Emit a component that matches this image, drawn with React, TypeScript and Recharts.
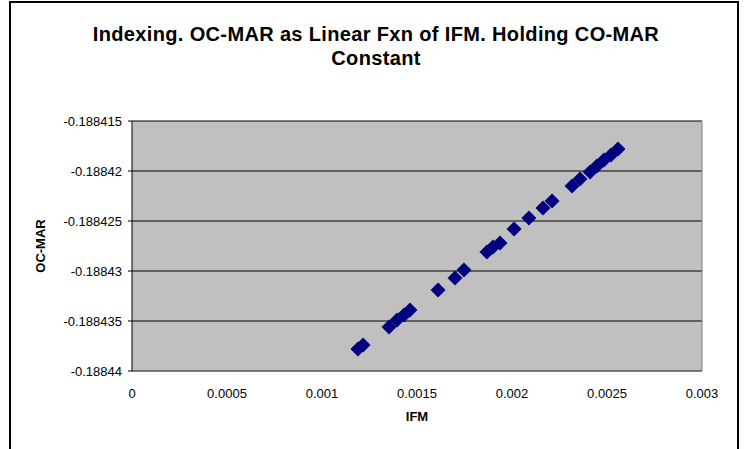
import {
	CartesianGrid,
	ReferenceLine,
	Scatter,
	ScatterChart,
	XAxis,
	YAxis,
} from "recharts";

const IFM = [
	0.001189, 0.001216, 0.001353, 0.001395, 0.001432, 0.001463, 0.001611,
	0.0017, 0.001747, 0.001868, 0.0019, 0.001937, 0.002011, 0.002089,
	0.002163, 0.002211, 0.002316, 0.002358, 0.002411, 0.002447, 0.002484,
	0.002521, 0.002558,
];

const OC_MAR = [
	-0.1884378, -0.1884374, -0.1884356, -0.1884349, -0.1884344, -0.1884339,
	-0.1884319, -0.1884307, -0.1884299, -0.1884281, -0.1884276, -0.1884272,
	-0.1884258, -0.1884247, -0.1884237, -0.188423, -0.1884215, -0.1884208,
	-0.1884201, -0.1884195, -0.1884189, -0.1884184, -0.1884178,
];

const X_TICKS = [0, 0.0005, 0.001, 0.0015, 0.002, 0.0025, 0.003];
const Y_TICKS = [-0.18844, -0.188435, -0.18843, -0.188425, -0.18842, -0.188415];

const TITLE = ["Indexing. OC-MAR as Linear Fxn of IFM. Holding CO-MAR", "Constant"];

const points = IFM.map((x, i) => ({ x, y: OC_MAR[i] }));

const FONT = '"Liberation Sans", Arial, sans-serif';

function Diamond(props: any) {
	const { cx, cy } = props;
	const r = 7.5;
	return (
		<polygon
			points={`${cx},${cy - r} ${cx + r},${cy} ${cx},${cy + r} ${cx - r},${cy}`}
			fill="#000080"
		/>
	);
}

export default function App() {
	return (
		<div
			style={{
				position: "fixed",
				left: 0,
				top: 0,
				width: 748,
				height: 449,
				overflow: "hidden",
				background: "#fff",
				fontFamily: FONT,
			}}
		>
			<div
				style={{
					position: "absolute",
					left: 9,
					top: 1,
					width: 730,
					height: 480,
					border: "2px solid #000",
					boxSizing: "border-box",
				}}
			/>
			<div
				style={{
					position: "absolute",
					left: 26,
					top: 22,
					width: 700,
					textAlign: "center",
					fontSize: 20,
					lineHeight: "24px",
					fontWeight: "bold",
					letterSpacing: 0.35,
					color: "#000",
				}}
			>
				{TITLE.map((t) => (
					<div key={t}>{t}</div>
				))}
			</div>
			<div style={{ position: "absolute", left: 0, top: 0 }}>
				<ScatterChart
					width={748}
					height={449}
					margin={{ top: 121, right: 46, bottom: 38, left: 0 }}
				>
					<CartesianGrid
						fill="#C0C0C0"
						stroke="#000"
						vertical={false}
						horizontalValues={Y_TICKS}
					/>
					<XAxis
						type="number"
						dataKey="x"
						domain={[0, 0.003]}
						ticks={X_TICKS}
						allowDataOverflow
						height={40}
						tickLine={false}
						tickSize={0}
						tickMargin={18}
						axisLine={{ stroke: "#808080" }}
						tick={{ fontSize: 13, fill: "#000", fontFamily: FONT }}
						tickFormatter={(v) => String(v)}
					/>
					<YAxis
						type="number"
						dataKey="y"
						domain={[-0.18844, -0.188415]}
						ticks={Y_TICKS}
						allowDataOverflow
						width={132}
						tickSize={4}
						tickMargin={6}
						axisLine={{ stroke: "#000" }}
						tickLine={{ stroke: "#000" }}
						tick={{ fontSize: 13, fill: "#000", fontFamily: FONT }}
						tickFormatter={(v) => String(v)}
					/>
					<ReferenceLine x={0.003} stroke="#808080" />
					<Scatter
						data={points}
						shape={Diamond}
						isAnimationActive={false}
					/>
				</ScatterChart>
			</div>
			<div
				style={{
					position: "absolute",
					left: 367,
					top: 409,
					width: 100,
					textAlign: "center",
					fontSize: 13,
					fontWeight: "bold",
				}}
			>
				IFM
			</div>
			<div
				style={{
					position: "absolute",
					left: 40,
					top: 246,
					transform: "translate(-50%, -50%) rotate(-90deg)",
					fontSize: 13,
					fontWeight: "bold",
					whiteSpace: "nowrap",
				}}
			>
				OC-MAR
			</div>
		</div>
	);
}
